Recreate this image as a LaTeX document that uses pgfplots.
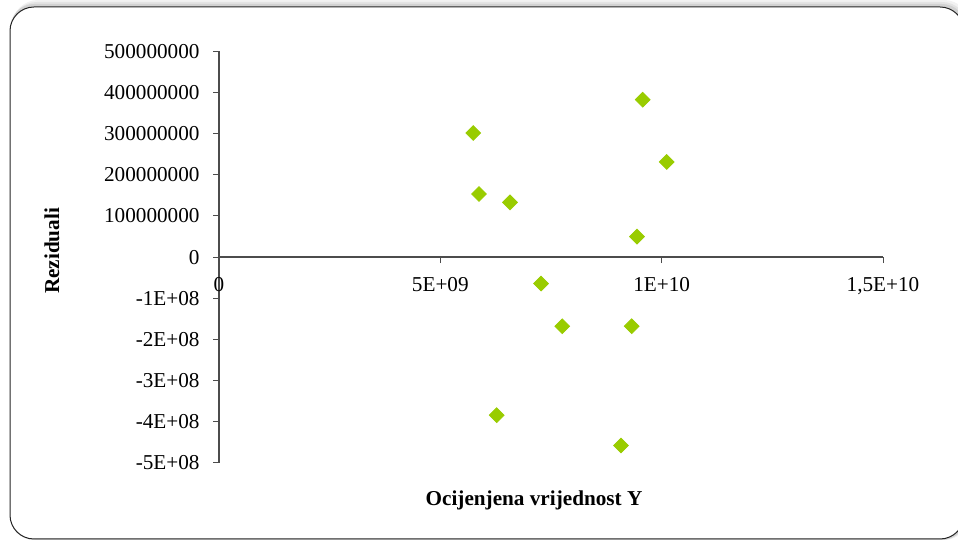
\documentclass[border=0pt]{standalone}
\usepackage{fontspec}
\setmainfont{Liberation Serif}
\usepackage{pgfplots}
\pgfplotsset{compat=1.18}
\definecolor{mk}{HTML}{99CC00}
\begin{document}
\fontsize{10.6}{12.7}\selectfont
\begin{tikzpicture}[x=0.5pt,y=0.5pt]
\useasboundingbox (0,0) rectangle (958,540);
\begin{scope}
\clip (0,0) rectangle (958,540);
\fill[black,opacity=0.05,rounded corners=13pt] (12,0) rectangle (970,540);
\fill[black,opacity=0.06,rounded corners=13pt] (11,0) rectangle (968,538);
\fill[black,opacity=0.08,rounded corners=12pt] (10,0) rectangle (966,536);
\fill[white,rounded corners=12pt] (10,1) rectangle (964,533);
\draw[rounded corners=12pt, line width=0.5pt, draw=black!85] (10,1) rectangle (964,533);
\end{scope}
\begin{axis}[
  at={(109.5pt,38.65pt)}, anchor=south west,
  scale only axis, width=332pt, height=205.6pt,
  xmin=0, xmax=1.5e10, ymin=-5e8, ymax=5e8,
  axis lines=middle,
  axis line style={-, draw=black!70, line width=0.6pt},
  xtick={0,5e9,1e10,1.5e10},
  xticklabels={0,5E+09,1E+10,{1,5E+10}},
  ytick={-5e8,-4e8,-3e8,-2e8,-1e8,0,1e8,2e8,3e8,4e8,5e8},
  yticklabels={-5E+08,-4E+08,-3E+08,-2E+08,-1E+08,0,100000000,200000000,300000000,400000000,500000000},
  hide obscured x ticks=false, hide obscured y ticks=false,
  scaled ticks=false,
  tick align=outside, major tick length=3pt,
  tick style={black!70, line width=0.5pt},
  y tick label style={xshift=-3pt},
  x tick label style={yshift=-3.5pt},
  clip=false,
]
\addplot[only marks, mark=square*, mark size=2.6pt, mark options={rotate=45, fill=mk, draw=mk}, color=mk] coordinates {
(5.744e9,301.7e6)
(9.571e9,382.7e6)
(10.113e9,231.3e6)
(5.873e9,153.5e6)
(6.573e9,133.1e6)
(9.442e9,49.8e6)
(7.274e9,-64.4e6)
(7.755e9,-168.1e6)
(9.322e9,-168.1e6)
(6.273e9,-384.4e6)
(9.081e9,-458e6)
};
\end{axis}
\node[rotate=90, font=\bfseries] at (52,289) {Reziduali};
\node[font=\bfseries] at (534,40) {Ocijenjena vrijednost Y};
\end{tikzpicture}
\end{document}
